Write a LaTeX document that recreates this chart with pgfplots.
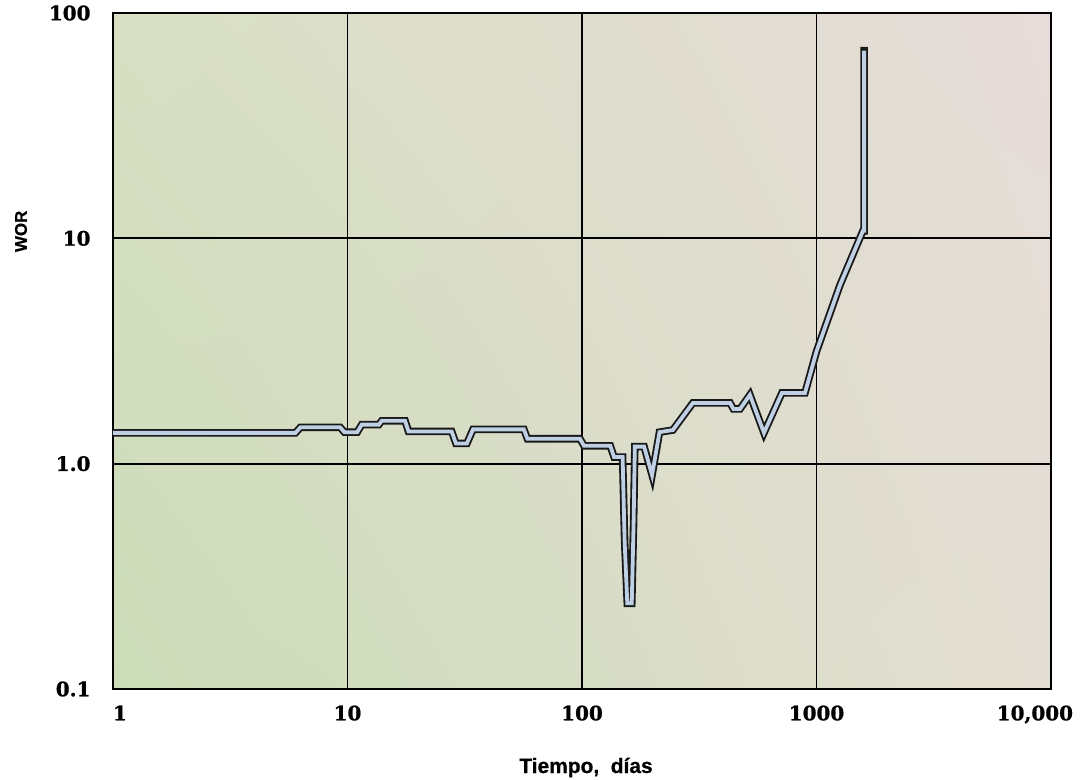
\documentclass[border=0pt]{standalone}
\usepackage{pgfplots}
\pgfplotsset{compat=1.18}
\usepackage{pgfplotstable}
\usetikzlibrary{shadings}
\usepackage{fontspec}
\setmainfont{Liberation Sans}[BoldFeatures={FakeBold=0.6}]
\newfontfamily\tickfont{DejaVu Serif}[BoldFeatures={FakeBold=1.0}]
\definecolor{lineblue}{RGB}{192,208,228}
\definecolor{bgLL}{RGB}{204,220,184}
\definecolor{bgUL}{RGB}{216,223,196}
\definecolor{bgUR}{RGB}{230,220,217}
\definecolor{bgLR}{RGB}{227,222,211}

\pgfplotstableread{
x y
1 1.37
6.0 1.37
6.3 1.45
9.3 1.45
9.7 1.38
11.0 1.38
11.5 1.49
13.6 1.49
14.0 1.55
17.6 1.55
18.2 1.39
27.8 1.39
29.0 1.23
32.3 1.23
34.3 1.42
56.5 1.42
58.5 1.29
98 1.29
102 1.20
132 1.20
137 1.07
149 1.07
152 0.45
156 0.24
163 0.24
166 0.55
168 1.19
184 1.19
199 0.89
214 1.38
244 1.41
297 1.86
428 1.86
442 1.75
472 1.75
520 2.02
597 1.37
712 2.06
893 2.06
1000 3.15
1259 6.2
1578 10.8
1596 10.8
1596 68
}\data

\begin{document}
\begin{tikzpicture}
\useasboundingbox (-113bp,-91bp) rectangle (970bp,689bp);
\begin{axis}[
  at={(0,0)}, anchor=south west,
  scale only axis, width=938bp, height=676bp,
  xmode=log, ymode=log,
  xmin=1, xmax=10000, ymin=0.1, ymax=100,
  xtick={1,10,100,1000,10000},
  xticklabels={\makebox[0pt][l]{1},10,100,1000,\makebox[0pt][r]{10,000\hspace{-22bp}}},
  ytick={0.1,1,10,100},
  yticklabels={0.1,1.0,10,100},
  minor xtick={}, minor ytick={},
  major tick length=0pt, minor tick length=0pt,
  tick style={draw=none},
  grid=major,
  major grid style={black, line width=1.8bp},
  axis line style={black, line width=1.8bp},
  ticklabel style={font=\tickfont\bfseries\fontsize{20}{24}\selectfont},
  xticklabel style={yshift=-13bp},
  yticklabel style={xshift=-19bp},
  xlabel={Tiempo,\ \ días},
  ylabel={WOR},
  xlabel style={at={(rel axis cs:0.5,0)}, anchor=base, yshift=-84bp, xshift=4bp, font=\bfseries\fontsize{21}{24}\selectfont},
  ylabel style={at={(rel axis cs:0,0.677)}, anchor=center, yshift=92bp, font=\bfseries\fontsize{17}{20}\selectfont},
  axis background/.style={shade, upper left=bgUL, upper right=bgUR, lower left=bgLL, lower right=bgLR},
]
\addplot[black!90, line width=7.5bp, line join=miter, miter limit=20, line cap=rect, forget plot] table {\data};
\addplot[lineblue, line width=3.8bp, line join=miter, miter limit=20, forget plot] table {\data};
\end{axis}
\end{tikzpicture}
\end{document}
